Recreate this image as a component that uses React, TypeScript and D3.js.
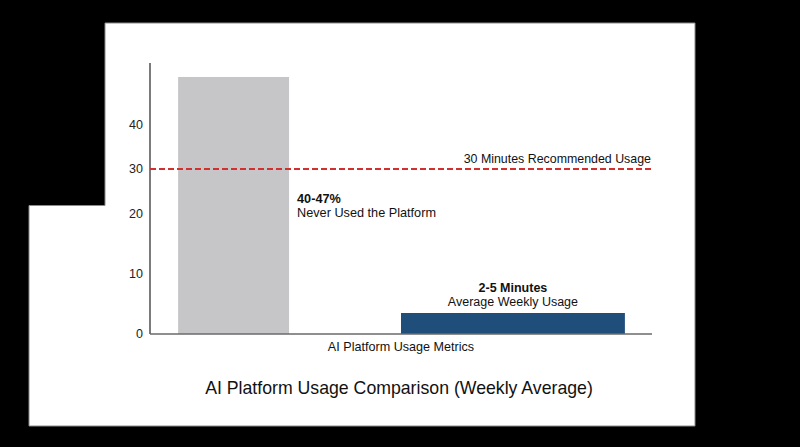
import React, { useEffect } from "react";
import * as d3 from "d3";

// ---- data ----
const categories = ["Never Used the Platform", "Average Weekly Usage"];
const values = [47, 3.5];
const valueLabels = ["40-47%", "2-5 Minutes"];
const yTicks = [0, 10, 20, 30, 40];
const referenceValue = 30;
const referenceLabel = "30 Minutes Recommended Usage";
const xAxisLabel = "AI Platform Usage Metrics";
const title = "AI Platform Usage Comparison (Weekly Average)";

// ---- layout / style ----
const W = 800;
const H = 447;
const plotLeft = 150;
const plotRight = 652;
const plotBottom = 334;
const axisTop = 63;
const barColors = ["#c6c6c8", "#1f4e7b"];
// bar placement inside each band (fraction of bandwidth)
const barPlacement = [
  { offset: 0.112, width: 0.442 },
  { offset: 0.0, width: 0.892 },
];
const font = "'Liberation Sans', Arial, Helvetica, sans-serif";

export default function App() {
  useEffect(() => {
    document.body.style.margin = "0";
    document.body.style.background = "#000";
  }, []);

  // piecewise linear y scale (the original axis is not uniformly spaced)
  const y = d3
    .scaleLinear()
    .domain([0, 10, 20, 30, 40, 50])
    .range([plotBottom, 274, 214, 169, 125, 56.4]);

  const x = d3
    .scaleBand<string>()
    .domain(categories)
    .range([plotLeft, plotRight])
    .paddingInner(0)
    .paddingOuter(0);

  const bw = x.bandwidth();
  const bars = categories.map((c, i) => {
    const x0 = (x(c) as number) + barPlacement[i].offset * bw;
    const w = barPlacement[i].width * bw;
    return { c, i, x0, w, top: y(values[i]), v: values[i] };
  });

  const frame = d3.line()([
    [105, 23],
    [695, 23],
    [695, 426],
    [29, 426],
    [29, 205.5],
    [105, 205.5],
  ]) + "Z";

  const ry = y(referenceValue);

  return (
    <svg width={W} height={H} style={{ display: "block" }} fontFamily={font}>
      <rect x={0} y={0} width={W} height={H} fill="#000" />
      <path d={frame} fill="#fff" stroke="#8a8a8a" strokeWidth={1} />

      {bars.map((b) => (
        <rect
          key={b.c}
          x={b.x0}
          y={b.top}
          width={b.w}
          height={plotBottom - b.top}
          fill={barColors[b.i]}
        />
      ))}

      {/* axes */}
      <line x1={plotLeft} x2={plotLeft} y1={axisTop} y2={plotBottom} stroke="#333" strokeWidth={1.3} />
      <line x1={plotLeft} x2={plotRight} y1={plotBottom} y2={plotBottom} stroke="#6a6a6a" strokeWidth={1.6} />

      {yTicks.map((t) => (
        <text
          key={t}
          x={143}
          y={y(t)}
          dy="0.35em"
          textAnchor="end"
          fontSize={12.5}
          fill="#222"
        >
          {t}
        </text>
      ))}

      {/* reference line */}
      <line
        x1={plotLeft}
        x2={plotRight}
        y1={ry}
        y2={ry}
        stroke="#d32f2f"
        strokeWidth={2}
        strokeDasharray="6,3"
      />
      <text x={plotRight - 1} y={ry - 6} textAnchor="end" fontSize={12.4} fill="#111">
        {referenceLabel}
      </text>

      {/* annotation: gray bar */}
      <text x={bars[0].x0 + bars[0].w + 8} y={ry + 34} fontSize={12.7} fill="#111">
        <tspan fontWeight="bold">{valueLabels[0]}</tspan>
        <tspan x={bars[0].x0 + bars[0].w + 8} dy={14}>
          {categories[0]}
        </tspan>
      </text>

      {/* annotation: blue bar */}
      <text
        x={bars[1].x0 + bars[1].w / 2}
        y={bars[1].top - 21}
        textAnchor="middle"
        fontSize={12.5}
        fill="#111"
      >
        <tspan fontWeight="bold">{valueLabels[1]}</tspan>
        <tspan x={bars[1].x0 + bars[1].w / 2} dy={14}>
          {categories[1]}
        </tspan>
      </text>

      <text
        x={(plotLeft + plotRight) / 2}
        y={plotBottom + 16.5}
        textAnchor="middle"
        fontSize={12.6}
        fill="#111"
      >
        {xAxisLabel}
      </text>

      <text x={399} y={394} textAnchor="middle" fontSize={17.7} fill="#111">
        {title}
      </text>
    </svg>
  );
}
